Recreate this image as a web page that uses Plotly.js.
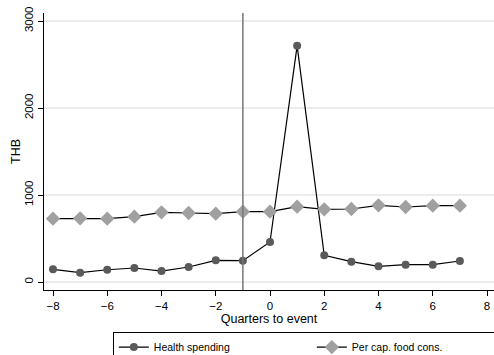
<!DOCTYPE html>
<html><head><meta charset="utf-8">
<script src="https://cdn.plot.ly/plotly-3.0.1.min.js"></script>
<style>html,body{margin:0;padding:0;background:#fff;}</style>
</head><body><div id="chart" style="width:494px;height:355px;"></div>
<script>
var quarters = [-8,-7,-6,-5,-4,-3,-2,-1,0,1,2,3,4,5,6,7];
var healthSpending = [146,107,141,161,126,172,249,245,460,2715,307,234,180,199,199,241];
var foodCons = [728,732,728,751,801,793,785,808,808,866,835,839,881,862,877,877];
var xTicks = [-8,-6,-4,-2,0,2,4,6,8];
var yTicks = [0,1000,2000,3000];
var eventQuarter = -1;

var font = {family: '"Liberation Sans", Arial, sans-serif', color: '#000', size: 12};

var traces = [
  {x: quarters, y: healthSpending, name: 'Health spending', type: 'scatter', mode: 'lines+markers',
   line: {color: '#000', width: 1.2}, marker: {symbol: 'circle', size: 8, color: '#5a5a5a'}},
  {x: quarters, y: foodCons, name: 'Per cap. food cons.', type: 'scatter', mode: 'lines+markers',
   line: {color: '#000', width: 1.2}, marker: {symbol: 'diamond', size: 11, color: '#a0a0a0'}}
];

var layout = {
  width: 494, height: 355,
  margin: {l: 44, r: 0, t: 13, b: 65, autoexpand: false},
  paper_bgcolor: '#fff', plot_bgcolor: '#fff',
  font: font,
  showlegend: true,
  legend: {orientation: 'h', x: 0.153, xanchor: 'left', y: -0.15, yanchor: 'top',
           bordercolor: '#000', borderwidth: 1, font: {family: font.family, size: 10.5, color: '#000'},
           traceorder: 'normal', entrywidth: 153},
  xaxis: {range: [-8.332, 8.258], tickvals: xTicks, ticks: 'outside', ticklen: 5, tickcolor: '#000',
          showline: true, linecolor: '#000', linewidth: 1, showgrid: false, zeroline: false,
          title: {text: 'Quarters to event', font: {size: 12.5}, standoff: 0}, tickfont: {size: 11.5}},
  yaxis: {range: [-92, 3092], tickvals: yTicks, ticks: 'outside', ticklen: 5, tickcolor: '#000',
          showline: true, linecolor: '#000', linewidth: 1, showgrid: true, gridcolor: '#ececec', gridwidth: 1.5,
          zeroline: false, tickangle: -90, tickfont: {size: 11.5},
          title: {text: 'THB', font: {size: 12.5}, standoff: 0}},
  shapes: [{type: 'line', xref: 'x', yref: 'paper', x0: eventQuarter, x1: eventQuarter, y0: 0, y1: 1,
            line: {color: '#777', width: 1.5}}]
};
Plotly.newPlot('chart', traces, layout, {staticPlot: true, displayModeBar: false});
</script></body></html>
